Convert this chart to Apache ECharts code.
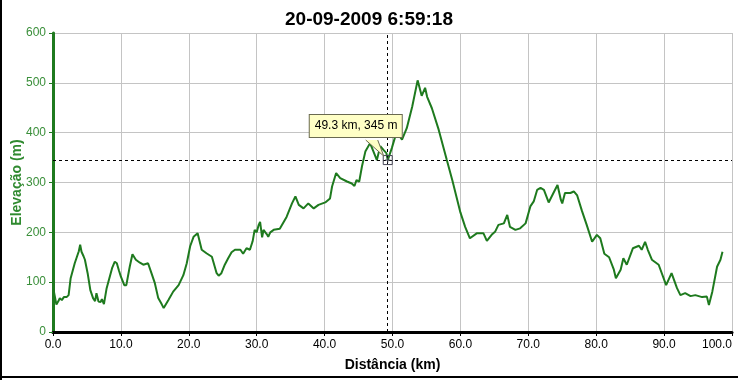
<!DOCTYPE html>
<html><head><meta charset="utf-8">
<script src="https://cdn.jsdelivr.net/npm/echarts@6/dist/echarts.min.js"></script>
<style>html,body{margin:0;padding:0;background:#fff}#c{width:738px;height:380px}</style>
</head><body><div id="c"></div>
<script>
const titleText = '20-09-2009 6:59:18';
const xName = 'Distância (km)';
const yName = 'Elevação (m)';
const xTicks = [0,10,20,30,40,50,60,70,80,90,100];
const yTicks = [0,100,200,300,400,500,600];
const distKm = [0.0,0.15,0.5,0.8,1.0,1.3,1.6,2.0,2.3,2.6,3.0,3.2,3.5,3.8,4.0,4.2,4.5,4.7,5.1,5.5,5.9,6.2,6.4,6.7,7.0,7.2,7.5,7.9,8.3,8.7,9.1,9.4,9.7,10.0,10.5,10.8,11.3,11.7,12.2,12.8,13.3,14.0,14.5,15.0,15.5,16.0,16.3,17.0,17.7,18.5,19.2,19.7,20.2,20.7,21.3,21.9,22.6,23.4,24.1,24.4,24.8,25.3,25.8,26.3,26.8,27.6,28.0,28.5,29.0,29.4,29.7,30.0,30.3,30.5,30.8,31.0,31.2,31.5,31.7,32.0,32.5,33.4,34.4,35.2,35.7,36.2,36.9,37.6,38.4,39.1,40.1,40.8,41.1,41.7,42.3,43.3,44.0,44.4,44.7,45.1,45.5,46.0,46.7,47.2,47.7,48.2,48.7,49.1,49.3,49.9,50.4,50.9,51.4,52.1,52.9,53.7,54.3,54.8,55.1,55.8,56.8,58.0,58.8,60.0,60.7,61.4,62.4,63.4,63.9,64.6,65.1,65.6,66.4,66.9,67.3,68.1,68.8,69.6,70.3,70.8,71.3,71.8,72.3,73.0,73.7,74.3,74.8,75.0,75.4,76.2,76.7,77.2,77.9,78.6,79.4,80.1,80.6,81.2,81.9,82.6,82.9,83.6,84.0,84.5,85.4,86.3,86.7,87.2,87.6,88.2,89.2,90.3,91.1,91.9,92.4,93.1,93.9,94.6,95.6,96.3,96.6,97.1,97.8,98.3,98.6];
const elevM = [85,80,55,62,68,64,70,70,74,108,128,138,150,162,175,161,152,145,118,84,68,62,78,61,60,66,56,88,108,128,141,138,124,111,94,94,131,156,145,139,135,138,118,98,68,56,48,64,81,94,114,138,172,191,198,165,158,151,118,113,118,135,148,160,165,165,157,168,165,182,205,200,215,221,190,205,201,196,191,200,205,207,231,258,272,255,248,258,248,255,260,268,292,319,309,302,298,293,305,302,332,362,379,362,345,373,365,359,345,369,392,396,386,409,452,505,474,490,472,449,406,345,305,240,211,188,198,198,183,195,201,215,218,235,211,205,208,218,252,262,285,289,285,260,279,295,265,258,279,279,282,274,243,215,181,195,188,157,150,125,108,125,148,135,168,173,165,181,165,145,135,94,118,88,74,78,72,74,70,71,54,81,131,145,161];
const cursorKm = 49.3;
const cursorM = 345;
const cursorLabel = '49.3 km, 345 m';

const chart = echarts.init(document.getElementById('c'), null, {renderer:'canvas'});
const data = distKm.map((d,i)=>[d, elevM[i]]);
const font = 'Liberation Sans, Arial, sans-serif';
const frame = [
  {type:'line',shape:{x1:1,y1:0,x2:1,y2:380},style:{stroke:'#000',lineWidth:2}},
  {type:'line',shape:{x1:0,y1:377,x2:738,y2:377},style:{stroke:'#000',lineWidth:2}}
];
chart.setOption({
  animation:false,
  backgroundColor:'#fff',
  title:{text:titleText,left:'center',top:5,textStyle:{fontFamily:font,fontSize:19,fontWeight:'bold',color:'#000'}},
  grid:{left:53,right:6,top:33,bottom:48,outerBoundsMode:'none',containLabel:false},
  xAxis:{type:'value',min:xTicks[0],max:xTicks[xTicks.length-1],interval:10,
    name:xName,nameLocation:'middle',nameGap:26,nameMoveOverlap:false,
    nameTextStyle:{fontFamily:font,fontSize:14,fontWeight:'bold',color:'#000'},
    axisLine:{lineStyle:{color:'#000',width:3}},
    axisTick:{show:true,length:4,lineStyle:{color:'#000',width:1}},
    axisLabel:{fontFamily:font,fontSize:12,color:'#000',margin:7,formatter:v=>v.toFixed(1),alignMaxLabel:'right'},
    splitLine:{show:true,lineStyle:{color:'#c4c4c4',width:1}}},
  yAxis:{type:'value',min:yTicks[0],max:yTicks[yTicks.length-1],interval:100,
    name:yName,nameLocation:'middle',nameGap:29,nameMoveOverlap:false,
    nameTextStyle:{fontFamily:font,fontSize:14,fontWeight:'bold',color:'#2f8a2f'},
    axisLine:{show:true,lineStyle:{color:'#1f7a1f',width:3}},
    axisTick:{show:true,length:4,lineStyle:{color:'#1f7a1f',width:1}},
    axisLabel:{fontFamily:font,fontSize:12,color:'#3a8f3a',margin:7},
    splitLine:{show:true,lineStyle:{color:'#c4c4c4',width:1}}},
  series:[{
    type:'line',data:data,showSymbol:false,symbol:'none',
    lineStyle:{color:'#1e7a1e',width:2},
    markLine:{silent:true,symbol:['none','none'],label:{show:false},
      lineStyle:{color:'#000',type:[3,3],width:1},
      data:[{xAxis:cursorKm},{yAxis:cursorM}]},
    markPoint:{silent:true,data:[{coord:[cursorKm,cursorM],value:cursorLabel}],
      symbol:'path://M0 0 L10 0 L10 10 L0 10 Z M5 2 L5 8 M2 5 L8 5',symbolSize:9,
      itemStyle:{color:'rgba(0,0,0,0)',borderColor:'#445',borderWidth:1},
      label:{show:true,formatter:cursorLabel,position:[-73,-40],
        fontFamily:font,fontSize:12,color:'#000',backgroundColor:'#ffffc6',
        borderColor:'#6a6a50',borderWidth:1,padding:[4,5,4,5],width:82,height:14,lineHeight:14}}
  }],
  graphic:frame
});
const p = chart.convertToPixel({gridIndex:0},[cursorKm,cursorM]);
const boxBottom = p[1]-20;
chart.setOption({graphic:frame.concat([
  {type:'polyline',z:100,shape:{points:[[p[0]-22,boxBottom],[p[0]-4,p[1]-4],[p[0]-10,boxBottom]]},
    style:{fill:'#ffffc6',stroke:'#6a6a50',lineWidth:1}}
])});
</script></body></html>
